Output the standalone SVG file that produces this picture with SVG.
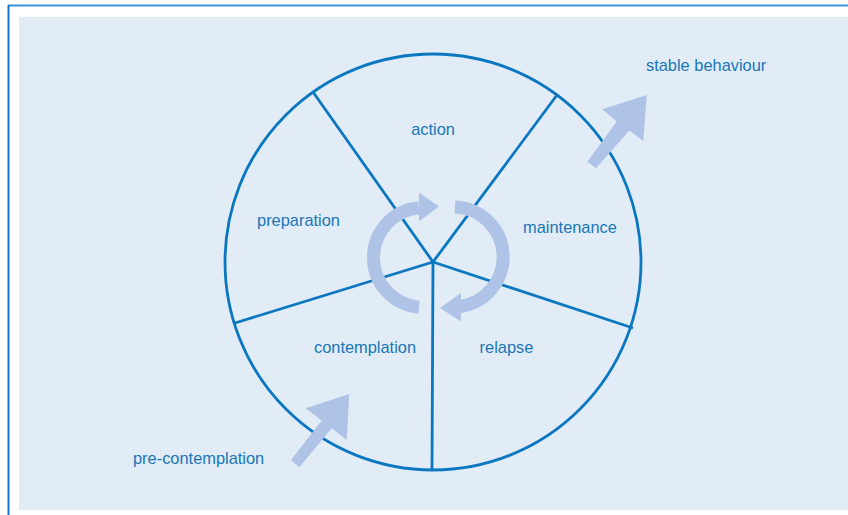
<svg xmlns="http://www.w3.org/2000/svg" width="848" height="515" viewBox="0 0 848 515">
<style>
.lbl{font-family:"Liberation Sans",Arial,sans-serif;font-size:16.4px;fill:#1a76b8}
.spoke{stroke:#0b77c0;stroke-width:2.8;fill:none}
.cyc{stroke:#aec3e6;stroke-width:13;fill:none}
.ar{fill:#aec3e6}
</style>
<rect x="0" y="0" width="848" height="515" fill="#ffffff"/>
<rect x="19" y="17" width="829" height="493" fill="#e1ecf6"/>
<line x1="8" y1="5.5" x2="848" y2="5.5" stroke="#3b93d3" stroke-width="2"/>
<line x1="8.5" y1="5" x2="8.5" y2="515" stroke="#1677c4" stroke-width="2"/>
<g id="wheel">
<circle cx="433" cy="262" r="208" class="spoke"/>
</g>
<g id="connectors">
<line x1="433" y1="262" x2="313" y2="92" class="spoke"/>
<line x1="433" y1="262" x2="557" y2="95" class="spoke"/>
<line x1="433" y1="262" x2="235" y2="323" class="spoke"/>
<line x1="433" y1="262" x2="633" y2="328" class="spoke"/>
<line x1="433" y1="262" x2="432" y2="470" class="spoke"/>
</g>
<g id="cycle">
<path d="M419,307.3 A50,50 0 0 1 419,207.7" class="cyc"/>
<polygon points="419,192.5 419,221.5 439,206.5" class="ar"/>
<path d="M455,207 A50,50 0 0 1 460,306.5" class="cyc"/>
<polygon points="461,293 461,321.5 440,308" class="ar"/>
</g>
<g id="arrow-stable">
<polygon points="587.3,161.7 616.7,121.5 602.3,109.3 646.7,95 643.3,141 629.3,130.5 596,168.3" class="ar"/>
</g>
<g id="arrow-pre">
<polygon points="291,460 321.7,420.5 305.7,408.3 349.3,394 346.7,440 331.7,428.3 299.3,467.3" class="ar"/>
</g>
<g id="n-action"><text x="433" y="135" text-anchor="middle" class="lbl">action</text></g>
<g id="n-preparation"><text x="298.5" y="226" text-anchor="middle" class="lbl">preparation</text></g>
<g id="n-maintenance"><text x="570" y="233" text-anchor="middle" class="lbl">maintenance</text></g>
<g id="n-contemplation"><text x="365" y="353" text-anchor="middle" class="lbl">contemplation</text></g>
<g id="n-relapse"><text x="506.5" y="353" text-anchor="middle" class="lbl">relapse</text></g>
<g id="n-stable"><text x="646" y="71" class="lbl">stable behaviour</text></g>
<g id="n-pre"><text x="133" y="464" class="lbl">pre-contemplation</text></g>
</svg>
